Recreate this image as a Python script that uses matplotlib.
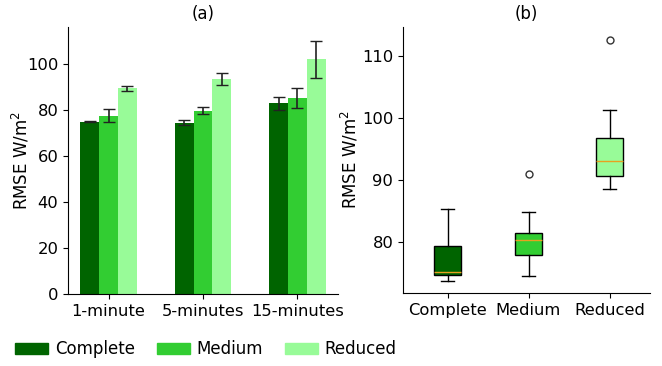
import numpy as np
from matplotlib import pyplot as plt
from matplotlib.patches import Patch

# bar chart values (a)
horizons = ["1-minute", "5-minutes", "15-minutes"]
complete_mean = [74.9, 74.5, 82.8]
complete_err = [0.3, 1.1, 2.9]
medium_mean = [77.5, 79.7, 85.1]
medium_err = [2.7, 1.4, 4.5]
reduced_mean = [89.3, 93.3, 102.0]
reduced_err = [1.2, 2.6, 8.1]

# box plot stats (b)
box_labels = ["Complete", "Medium", "Reduced"]
whislo = [73.7, 74.5, 88.5]
q1 = [74.6, 77.9, 90.5]
med = [75.1, 80.2, 93.0]
q3 = [79.2, 81.3, 96.7]
whishi = [85.2, 84.7, 101.2]
fliers = [[], [90.9], [112.5]]

colours = ["darkgreen", "limegreen", "palegreen"]

plt.rcParams["font.size"] = 11.8

fig = plt.figure(figsize=(6.62, 3.66), dpi=100)
ax1 = fig.add_axes([68 / 662, 1 - 294 / 366, 270 / 662, 267 / 366])
ax2 = fig.add_axes([403 / 662, 1 - 293 / 366, 247 / 662, 266 / 366])

x = np.arange(len(horizons))
w = 0.2
means = [complete_mean, medium_mean, reduced_mean]
errs = [complete_err, medium_err, reduced_err]
for i in range(3):
    ax1.bar(x + (i - 1) * w, means[i], w, yerr=errs[i], color=colours[i],
            capsize=4, error_kw={"ecolor": "#222222", "elinewidth": 1.2})
ax1.set_xticks(x)
ax1.set_xticklabels(horizons)
ax1.set_ylim(0, 116)
ax1.set_ylabel("RMSE W/m$^2$", fontsize=12)
ax1.yaxis.set_label_coords(-0.135, 0.5)
ax1.set_title("(a)", fontsize=12)

stats = []
for i in range(3):
    stats.append({"whislo": whislo[i], "q1": q1[i], "med": med[i], "q3": q3[i],
                  "whishi": whishi[i], "fliers": fliers[i], "label": box_labels[i]})
bp = ax2.bxp(stats, patch_artist=True, widths=0.33,
             medianprops={"color": "#e8a020"},
             flierprops={"markersize": 5, "markeredgecolor": "#333333"})
for patch, c in zip(bp["boxes"], colours):
    patch.set_facecolor(c)
ax2.set_xlim(0.45, 3.5)
ax2.set_ylim(71.7, 114.6)
ax2.set_yticks([80, 90, 100, 110])
ax2.set_ylabel("RMSE W/m$^2$", fontsize=12)
ax2.yaxis.set_label_coords(-0.172, 0.5)
ax2.set_title("(b)", fontsize=12)

for ax in (ax1, ax2):
    ax.spines["top"].set_visible(False)
    ax.spines["right"].set_visible(False)

handles = [Patch(color=c, label=l) for c, l in zip(colours, box_labels)]
fig.legend(handles=handles, loc="lower left", bbox_to_anchor=(0.0, -0.02),
           ncol=3, frameon=False, fontsize=12, handlelength=2.0,
           handletextpad=0.4, columnspacing=1.3)

fig.savefig("out.png", dpi=100)
